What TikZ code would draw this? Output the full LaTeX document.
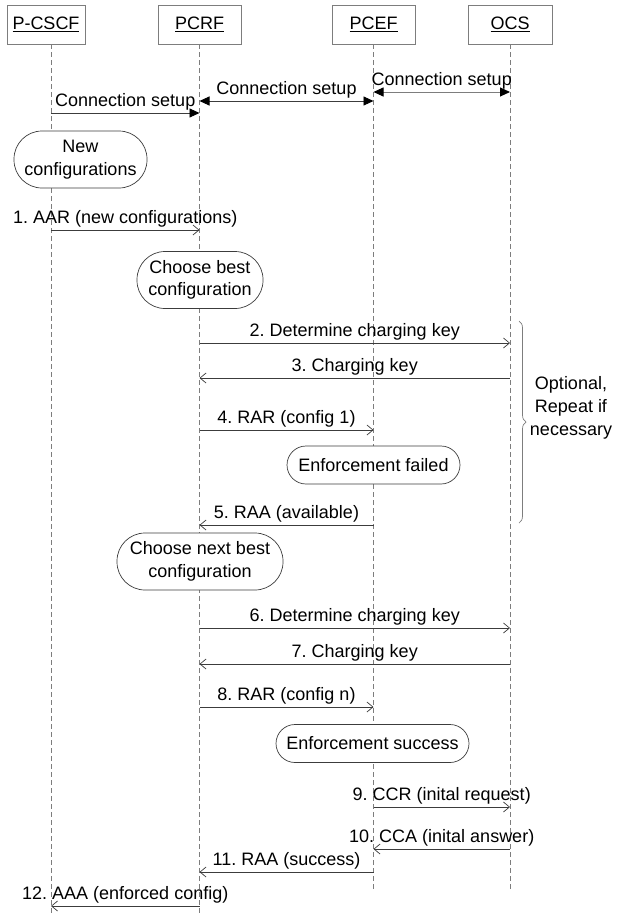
\documentclass[tikz,border=0pt]{standalone}
\usepackage{fontspec}
\setmainfont{Liberation Sans}
\usepackage{xcolor}
\usetikzlibrary{arrows.meta, positioning, calc, decorations.pathreplacing}
\definecolor{seqInk}{RGB}{60,60,60}
\definecolor{seqGrey}{RGB}{125,125,125}
\frenchspacing

\begin{document}
\begin{tikzpicture}[x=1pt,y=1pt,font=\fontsize{18}{22.5}\selectfont,
  entity/.style={draw=seqGrey,line width=0.9pt,minimum width=83pt,
                 minimum height=39pt,inner sep=0pt,anchor=center},
  life/.style={draw=seqGrey,line width=0.7pt,dash pattern=on 5pt off 3pt},
  state/.style={draw=seqInk,fill=white,line width=0.7pt,align=center,
                inner sep=0pt,minimum height=38pt,rounded corners=19pt},
  statetwo/.style={state,minimum height=57pt,rounded corners=28pt},
  msg/.style={-{Straight Barb[length=6pt,width=10pt]},line width=0.7pt,draw=seqInk},
  setup/.style={-{Triangle[length=10pt,width=9pt,color=black]},line width=0.9pt,draw=seqInk},
  setupboth/.style={{Triangle[length=10pt,width=9pt,color=black]}-{Triangle[length=10pt,width=9pt,color=black]},
                    line width=0.9pt,draw=seqInk},
  lbl/.style={midway,above=1pt,inner sep=1pt}]

\useasboundingbox (0,0) rectangle (622,-913);

% ===== entities and lifelines =====
\node[entity,minimum width=78pt] (cscf) at (46,-24.5) {\underline{P-CSCF}};
\node[entity] (pcrf) at (199.5,-24.5) {\underline{PCRF}};
\node[entity] (pcef) at (373.5,-24.5) {\underline{PCEF}};
\node[entity,minimum width=84pt] (ocs) at (510,-24.5) {\underline{OCS}};

\coordinate (cscfL) at ($(cscf.south)+(5,0)$);
\coordinate (pcrfL) at (pcrf.south);
\coordinate (pcefL) at (pcef.south);
\coordinate (ocsL) at (ocs.south);

\draw[life] (cscfL) -- (cscfL |- 0,-913);
\draw[life] (pcrfL) -- (pcrfL |- 0,-913);
\draw[life] (pcefL) -- (pcefL |- 0,-892);
\draw[life] (ocsL) -- (ocsL |- 0,-892);

% ===== connection setup =====
\draw[setup] (cscfL |- 0,-113) -- node[lbl] {Connection setup} (pcrfL |- 0,-113);
\draw[setupboth] (pcrfL |- 0,-101) -- node[lbl] {Connection setup} (pcefL |- 0,-101);
\draw[setupboth,draw=seqGrey] (pcefL |- 0,-92) -- node[lbl] {Connection setup} (ocsL |- 0,-92);

% ===== first attempt =====
\node[statetwo,minimum width=133pt] (newcfg) at (80.5,-159.5) {New\\configurations};
\draw[msg] (cscfL |- 0,-230) -- node[lbl] {1. AAR (new configurations)} (pcrfL |- 0,-230);
\node[statetwo,minimum width=126pt] (best) at (200,-280) {Choose best\\configuration};

\draw[msg] (pcrfL |- 0,-343) -- node[lbl] {2. Determine charging key} (ocsL |- 0,-343);
\draw[msg] (ocsL |- 0,-378) -- node[lbl] {3. Charging key} (pcrfL |- 0,-378);
\draw[msg] (pcrfL |- 0,-430) -- node[lbl] {4. RAR (config 1)} (pcefL |- 0,-430);
\node[state,minimum width=173pt] (failed) at (373.5,-465) {Enforcement failed};
\draw[msg] (pcefL |- 0,-525) -- node[lbl] {5. RAA (available)} (pcrfL |- 0,-525);

% Brace on the right
\coordinate (brTop) at (519,-321);
\coordinate (brBot) at (519,-523);
\draw[seqGrey,line width=0.7pt,decorate,decoration={brace,amplitude=7pt}] (brTop) -- (brBot);
\node[align=center,font=\fontsize{18}{23}\selectfont] (optional) at (571,-408)
   {Optional,\\Repeat if\\necessary};

% ===== second attempt =====
\node[statetwo,minimum width=166pt] (nextbest) at (200,-561.5) {Choose next best\\configuration};
\draw[msg] (pcrfL |- 0,-628) -- node[lbl] {6. Determine charging key} (ocsL |- 0,-628);
\draw[msg] (ocsL |- 0,-664) -- node[lbl] {7. Charging key} (pcrfL |- 0,-664);
\draw[msg] (pcrfL |- 0,-707) -- node[lbl] {8. RAR (config n)} (pcefL |- 0,-707);
\node[state,minimum width=193pt] (success) at (372.5,-743.5) {Enforcement success};

\draw[msg] (pcefL |- 0,-807) -- node[lbl] {9. CCR (inital request)} (ocsL |- 0,-807);
\draw[msg] (ocsL |- 0,-849) -- node[lbl] {10. CCA (inital answer)} (pcefL |- 0,-849);
\draw[msg] (pcefL |- 0,-872) -- node[lbl] {11. RAA (success)} (pcrfL |- 0,-872);
\draw[msg] (pcrfL |- 0,-906) -- node[lbl] {12. AAA (enforced config)} (cscfL |- 0,-906);
\end{tikzpicture}
\end{document}
